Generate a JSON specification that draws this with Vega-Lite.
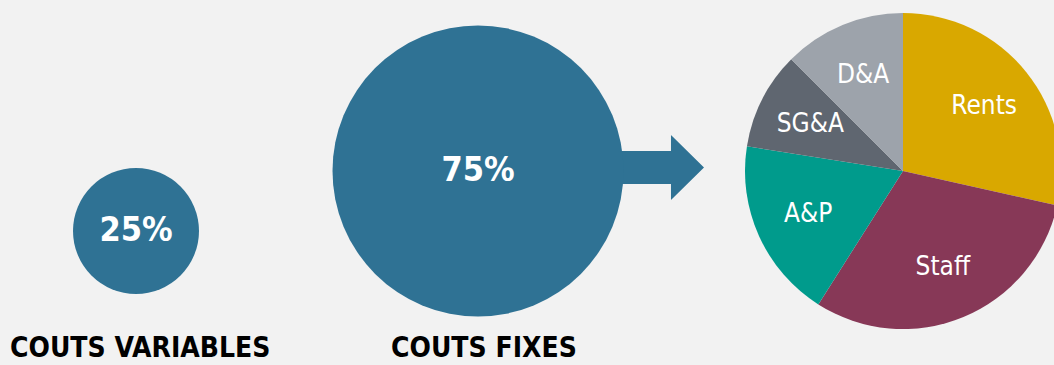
{
  "$schema": "https://vega.github.io/schema/vega-lite/v6.json",
  "width": 1054,
  "height": 365,
  "padding": 0,
  "autosize": {"type": "none"},
  "background": "#f2f2f2",
  "config": {"view": {"stroke": null}, "font": "DejaVu Sans Condensed"},
  "datasets": {
    "costs": [
      {"cost": "COUTS VARIABLES", "pct": 0.25},
      {"cost": "COUTS FIXES", "pct": 0.75}
    ],
    "fixed": [
      {"part": "Rents", "share": 28.5, "rank": 1},
      {"part": "Staff", "share": 30.5, "rank": 2},
      {"part": "A&P", "share": 18.5, "rank": 3},
      {"part": "SG&A", "share": 10, "rank": 4},
      {"part": "D&A", "share": 12.5, "rank": 5}
    ]
  },
  "resolve": {"scale": {"x": "independent", "y": "independent", "size": "independent", "color": "independent"}},
  "layer": [
    {
      "data": {"name": "costs"},
      "transform": [{"filter": "datum.cost == 'COUTS FIXES'"}],
      "mark": {"type": "point", "filled": true, "opacity": 1, "strokeWidth": 0, "color": "#2f7294",
        "shape": "M-1,-0.317L0.365,-0.317L0.365,-0.625L1,0L0.365,0.625L0.365,0.317L-1,0.317Z", "size": 10816},
      "encoding": {
        "x": {"field": "cost", "type": "nominal", "axis": null, "scale": {"type": "point", "domain": ["COUTS FIXES"], "range": [652, 652]}},
        "y": {"field": "cost", "type": "nominal", "axis": null, "scale": {"type": "point", "domain": ["COUTS FIXES"], "range": [167.5, 167.5]}}
      }
    },
    {
      "data": {"name": "costs"},
      "encoding": {
        "x": {"field": "cost", "type": "nominal", "axis": null, "scale": {"type": "point", "domain": ["COUTS VARIABLES", "COUTS FIXES"], "range": [136, 478], "padding": 0}},
        "y": {"field": "cost", "type": "nominal", "axis": null, "scale": {"type": "point", "domain": ["COUTS VARIABLES", "COUTS FIXES"], "range": [231, 171], "padding": 0}}
      },
      "layer": [
        {
          "mark": {"type": "point", "filled": true, "opacity": 1, "strokeWidth": 0, "shape": "circle", "color": "#2f7294"},
          "encoding": {
            "size": {"field": "pct", "type": "quantitative", "legend": null, "scale": {"domain": [0.25, 0.75], "range": [15876, 84681]}}
          }
        },
        {
          "mark": {"type": "text", "color": "white", "fontWeight": "bold", "fontSize": 34, "align": "center", "baseline": "middle"},
          "encoding": {"text": {"field": "pct", "type": "quantitative", "format": ".0%"}}
        }
      ]
    },
    {
      "data": {"name": "costs"},
      "mark": {"type": "text", "color": "#000000", "fontWeight": "bold", "fontSize": 28, "align": "left", "baseline": "alphabetic"},
      "encoding": {
        "x": {"field": "cost", "type": "nominal", "axis": null, "scale": {"type": "point", "domain": ["COUTS VARIABLES", "COUTS FIXES"], "range": [10, 391], "padding": 0}},
        "y": {"field": "cost", "type": "nominal", "axis": null, "scale": {"type": "point", "domain": ["COUTS VARIABLES", "COUTS FIXES"], "range": [357, 357], "padding": 0}},
        "text": {"field": "cost", "type": "nominal"}
      }
    },
    {
      "data": {"name": "fixed"},
      "encoding": {
        "theta": {"field": "share", "type": "quantitative", "stack": true},
        "order": {"field": "rank", "type": "quantitative"},
        "x": {"datum": "COUTS FIXES", "type": "nominal", "axis": null, "scale": {"type": "point", "domain": ["COUTS FIXES"], "range": [903, 903]}},
        "y": {"datum": "COUTS FIXES", "type": "nominal", "axis": null, "scale": {"type": "point", "domain": ["COUTS FIXES"], "range": [171, 171]}}
      },
      "layer": [
        {
          "mark": {"type": "arc", "outerRadius": 158, "stroke": null},
          "encoding": {
            "color": {"field": "part", "type": "nominal", "legend": null,
              "scale": {"domain": ["Rents", "Staff", "A&P", "SG&A", "D&A"], "range": ["#d9a800", "#873857", "#009b8c", "#5f6670", "#9da3ab"]}}
          }
        },
        {
          "mark": {"type": "text", "radius": 104, "fontSize": 26, "color": "white", "align": "center", "baseline": "middle"},
          "encoding": {
            "detail": {"field": "part", "type": "nominal"},
            "text": {"field": "part", "type": "nominal"}
          }
        }
      ]
    }
  ]
}
